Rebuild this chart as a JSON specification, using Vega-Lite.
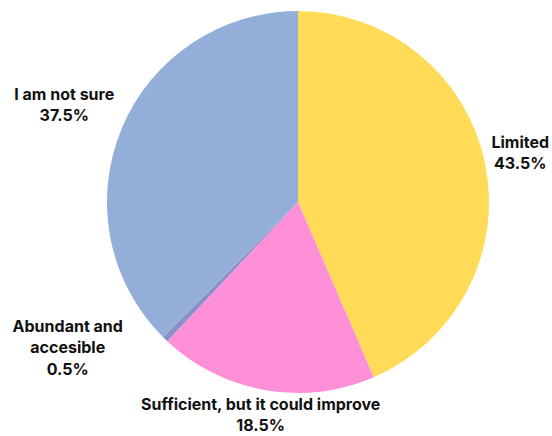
{
  "$schema": "https://vega.github.io/schema/vega-lite/v6.json",
  "width": 404,
  "height": 404,
  "autosize": {"type": "none"},
  "padding": {"left": 96, "top": 0, "right": 52, "bottom": 32},
  "background": "white",
  "view": {"stroke": null},
  "data": {
    "values": [
      {"rank": 1, "category": "Limited", "label": "Limited", "value": 43.5},
      {"rank": 2, "category": "Sufficient, but it could improve", "label": "Sufficient, but it could improve", "value": 18.5},
      {"rank": 3, "category": "Abundant and accesible", "label": "Abundant and|accesible", "value": 0.5},
      {"rank": 4, "category": "I am not sure", "label": "I am not sure", "value": 37.5}
    ]
  },
  "transform": [
    {"stack": "value", "groupby": [], "sort": [{"field": "rank", "order": "ascending"}], "as": ["t0", "t1"]},
    {"calculate": "(datum.t0 + datum.t1) / 2", "as": "mid"},
    {"calculate": "datum.label + '|' + format(datum.value, '.1f') + '%'", "as": "text"}
  ],
  "layer": [
    {
      "mark": {"type": "arc", "outerRadius": 191, "stroke": null},
      "encoding": {
        "theta": {"field": "t0", "type": "quantitative", "scale": {"domain": [0, 100]}},
        "theta2": {"field": "t1"},
        "color": {
          "field": "category",
          "type": "nominal",
          "scale": {
            "domain": ["Limited", "Sufficient, but it could improve", "Abundant and accesible", "I am not sure"],
            "range": ["#FFDB58", "#FF90D8", "#8A8FC9", "#93AED8"]
          },
          "legend": null
        }
      }
    },
    {
      "transform": [{"filter": "datum.category === 'Limited'"}],
      "mark": {"type": "text", "font": "Inter", "fontWeight": 700, "fontSize": 16, "lineBreak": "|", "lineHeight": 21, "align": "center", "baseline": "middle", "color": "#111111", "dy": -13},
      "encoding": {
        "theta": {"field": "mid", "type": "quantitative", "scale": {"domain": [0, 100]}},
        "text": {"field": "text", "type": "nominal"},
        "radius": {"value": 227}
      }
    },
    {
      "transform": [{"filter": "datum.category === 'Sufficient, but it could improve'"}],
      "mark": {"type": "text", "font": "Inter", "fontWeight": 700, "fontSize": 16, "lineBreak": "|", "lineHeight": 21, "align": "center", "baseline": "middle", "color": "#111111", "dy": -10.5},
      "encoding": {
        "theta": {"field": "mid", "type": "quantitative", "scale": {"domain": [0, 100]}},
        "text": {"field": "text", "type": "nominal"},
        "radius": {"value": 217}
      }
    },
    {
      "transform": [{"filter": "datum.category === 'Abundant and accesible'"}],
      "mark": {"type": "text", "font": "Inter", "fontWeight": 700, "fontSize": 16, "lineBreak": "|", "lineHeight": 21.5, "align": "center", "baseline": "middle", "color": "#111111", "dx": -89, "dy": -21},
      "encoding": {
        "theta": {"field": "mid", "type": "quantitative", "scale": {"domain": [0, 100]}},
        "text": {"field": "text", "type": "nominal"},
        "radius": {"value": 203}
      }
    },
    {
      "transform": [{"filter": "datum.category === 'I am not sure'"}],
      "mark": {"type": "text", "font": "Inter", "fontWeight": 700, "fontSize": 16, "lineBreak": "|", "lineHeight": 21, "align": "center", "baseline": "middle", "color": "#111111", "dy": -10.5},
      "encoding": {
        "theta": {"field": "mid", "type": "quantitative", "scale": {"domain": [0, 100]}},
        "text": {"field": "text", "type": "nominal"},
        "radius": {"value": 253}
      }
    }
  ]
}
